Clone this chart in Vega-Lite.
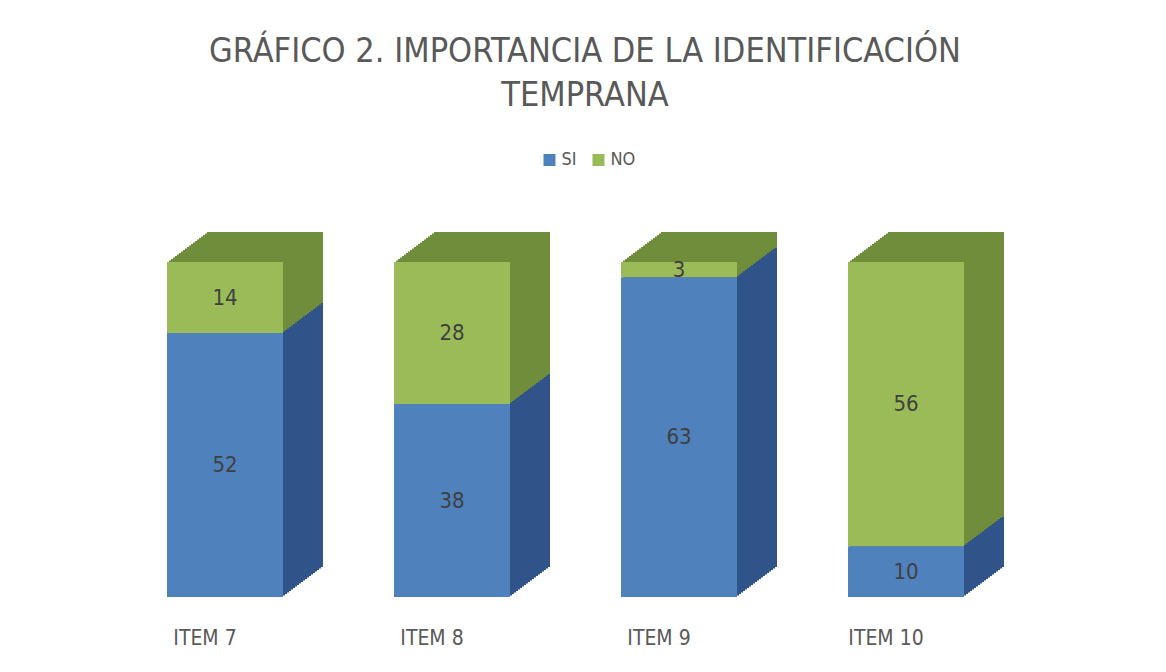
{
  "$schema": "https://vega.github.io/schema/vega-lite/v6.json",
  "width": 908,
  "height": 335,
  "autosize": "none",
  "padding": {"left": 111.5, "top": 262, "right": 146.5, "bottom": 75},
  "background": "white",
  "config": {"view": {"stroke": null}, "font": "'Liberation Sans Narrow', 'DejaVu Sans Condensed', 'Liberation Sans', sans-serif"},
  "title": {
    "text": ["GRÁFICO 2. IMPORTANCIA DE LA IDENTIFICACIÓN", "TEMPRANA"],
    "anchor": "middle",
    "dx": 19.5,
    "offset": 38,
    "font": "'Liberation Sans Narrow', 'DejaVu Sans Condensed', 'Liberation Sans', sans-serif",
    "fontSize": 34,
    "fontWeight": "normal",
    "lineHeight": 44,
    "color": "#595959"
  },
  "data": {"values": [
    {"item": "ITEM 7", "resp": "SI", "n": 52},
    {"item": "ITEM 7", "resp": "NO", "n": 14},
    {"item": "ITEM 8", "resp": "SI", "n": 38},
    {"item": "ITEM 8", "resp": "NO", "n": 28},
    {"item": "ITEM 9", "resp": "SI", "n": 63},
    {"item": "ITEM 9", "resp": "NO", "n": 3},
    {"item": "ITEM 10", "resp": "SI", "n": 10},
    {"item": "ITEM 10", "resp": "NO", "n": 56}
  ]},
  "encoding": {
    "x": {"field": "item", "type": "nominal", "sort": null,
      "scale": {"paddingInner": 0, "paddingOuter": 0},
      "axis": {"title": null, "domain": false, "ticks": false, "grid": false, "labelAngle": 0,
        "labelFontSize": 21, "labelColor": "#595959", "labelPadding": 30, "labelOffset": -20,
        "labelFont": "'Liberation Sans Narrow', 'DejaVu Sans Condensed', 'Liberation Sans', sans-serif"}},
    "y": {"field": "n", "type": "quantitative", "stack": "zero",
      "scale": {"domain": [0, 66], "nice": false}, "axis": null},
    "detail": {"field": "resp"},
    "order": {"field": "resp", "sort": "descending"}
  },
  "layer": [
    {"mark": {"type": "bar", "width": 116, "xOffset": 40, "x2Offset": 40, "yOffset": -30, "y2Offset": -30}, "encoding": {"color": {"condition": {"test": "datum.resp === 'SI'", "value": "#30548A"}, "value": "#6F8D3A"}}},
    {"mark": {"type": "bar", "width": 116, "xOffset": 38, "x2Offset": 38, "yOffset": -28.5, "y2Offset": -28.5}, "encoding": {"color": {"condition": {"test": "datum.resp === 'SI'", "value": "#30548A"}, "value": "#6F8D3A"}}},
    {"mark": {"type": "bar", "width": 116, "xOffset": 36, "x2Offset": 36, "yOffset": -27, "y2Offset": -27}, "encoding": {"color": {"condition": {"test": "datum.resp === 'SI'", "value": "#30548A"}, "value": "#6F8D3A"}}},
    {"mark": {"type": "bar", "width": 116, "xOffset": 34, "x2Offset": 34, "yOffset": -25.5, "y2Offset": -25.5}, "encoding": {"color": {"condition": {"test": "datum.resp === 'SI'", "value": "#30548A"}, "value": "#6F8D3A"}}},
    {"mark": {"type": "bar", "width": 116, "xOffset": 32, "x2Offset": 32, "yOffset": -24, "y2Offset": -24}, "encoding": {"color": {"condition": {"test": "datum.resp === 'SI'", "value": "#30548A"}, "value": "#6F8D3A"}}},
    {"mark": {"type": "bar", "width": 116, "xOffset": 30, "x2Offset": 30, "yOffset": -22.5, "y2Offset": -22.5}, "encoding": {"color": {"condition": {"test": "datum.resp === 'SI'", "value": "#30548A"}, "value": "#6F8D3A"}}},
    {"mark": {"type": "bar", "width": 116, "xOffset": 28, "x2Offset": 28, "yOffset": -21, "y2Offset": -21}, "encoding": {"color": {"condition": {"test": "datum.resp === 'SI'", "value": "#30548A"}, "value": "#6F8D3A"}}},
    {"mark": {"type": "bar", "width": 116, "xOffset": 26, "x2Offset": 26, "yOffset": -19.5, "y2Offset": -19.5}, "encoding": {"color": {"condition": {"test": "datum.resp === 'SI'", "value": "#30548A"}, "value": "#6F8D3A"}}},
    {"mark": {"type": "bar", "width": 116, "xOffset": 24, "x2Offset": 24, "yOffset": -18, "y2Offset": -18}, "encoding": {"color": {"condition": {"test": "datum.resp === 'SI'", "value": "#30548A"}, "value": "#6F8D3A"}}},
    {"mark": {"type": "bar", "width": 116, "xOffset": 22, "x2Offset": 22, "yOffset": -16.5, "y2Offset": -16.5}, "encoding": {"color": {"condition": {"test": "datum.resp === 'SI'", "value": "#30548A"}, "value": "#6F8D3A"}}},
    {"mark": {"type": "bar", "width": 116, "xOffset": 20, "x2Offset": 20, "yOffset": -15, "y2Offset": -15}, "encoding": {"color": {"condition": {"test": "datum.resp === 'SI'", "value": "#30548A"}, "value": "#6F8D3A"}}},
    {"mark": {"type": "bar", "width": 116, "xOffset": 18, "x2Offset": 18, "yOffset": -13.5, "y2Offset": -13.5}, "encoding": {"color": {"condition": {"test": "datum.resp === 'SI'", "value": "#30548A"}, "value": "#6F8D3A"}}},
    {"mark": {"type": "bar", "width": 116, "xOffset": 16, "x2Offset": 16, "yOffset": -12, "y2Offset": -12}, "encoding": {"color": {"condition": {"test": "datum.resp === 'SI'", "value": "#30548A"}, "value": "#6F8D3A"}}},
    {"mark": {"type": "bar", "width": 116, "xOffset": 14, "x2Offset": 14, "yOffset": -10.5, "y2Offset": -10.5}, "encoding": {"color": {"condition": {"test": "datum.resp === 'SI'", "value": "#30548A"}, "value": "#6F8D3A"}}},
    {"mark": {"type": "bar", "width": 116, "xOffset": 12, "x2Offset": 12, "yOffset": -9, "y2Offset": -9}, "encoding": {"color": {"condition": {"test": "datum.resp === 'SI'", "value": "#30548A"}, "value": "#6F8D3A"}}},
    {"mark": {"type": "bar", "width": 116, "xOffset": 10, "x2Offset": 10, "yOffset": -7.5, "y2Offset": -7.5}, "encoding": {"color": {"condition": {"test": "datum.resp === 'SI'", "value": "#30548A"}, "value": "#6F8D3A"}}},
    {"mark": {"type": "bar", "width": 116, "xOffset": 8, "x2Offset": 8, "yOffset": -6, "y2Offset": -6}, "encoding": {"color": {"condition": {"test": "datum.resp === 'SI'", "value": "#30548A"}, "value": "#6F8D3A"}}},
    {"mark": {"type": "bar", "width": 116, "xOffset": 6, "x2Offset": 6, "yOffset": -4.5, "y2Offset": -4.5}, "encoding": {"color": {"condition": {"test": "datum.resp === 'SI'", "value": "#30548A"}, "value": "#6F8D3A"}}},
    {"mark": {"type": "bar", "width": 116, "xOffset": 4, "x2Offset": 4, "yOffset": -3, "y2Offset": -3}, "encoding": {"color": {"condition": {"test": "datum.resp === 'SI'", "value": "#30548A"}, "value": "#6F8D3A"}}},
    {"mark": {"type": "bar", "width": 116, "xOffset": 2, "x2Offset": 2, "yOffset": -1.5, "y2Offset": -1.5}, "encoding": {"color": {"condition": {"test": "datum.resp === 'SI'", "value": "#30548A"}, "value": "#6F8D3A"}}},
    {"mark": {"type": "bar", "width": 116},
      "encoding": {"color": {"field": "resp", "type": "nominal",
        "scale": {"domain": ["SI", "NO"], "range": ["#4F81BD", "#9BBB59"]},
        "legend": {"title": null, "orient": "none", "direction": "horizontal", "legendX": 429, "legendY": -111,
          "symbolType": "square", "symbolSize": 144, "symbolStrokeWidth": 0, "labelFontSize": 18,
          "labelColor": "#595959", "labelFont": "'Liberation Sans Narrow', 'DejaVu Sans Condensed', 'Liberation Sans', sans-serif", "labelOffset": 3, "columnPadding": 12, "padding": 0}}}},
    {"transform": [
      {"stack": "n", "groupby": ["item"], "sort": [{"field": "resp", "order": "descending"}], "as": ["y0", "y1"]},
      {"calculate": "(datum.y0 + datum.y1) / 2", "as": "mid"}
    ],
      "mark": {"type": "text", "fontSize": 22, "color": "#404040", "font": "'Liberation Sans Narrow', 'DejaVu Sans Condensed', 'Liberation Sans', sans-serif"},
      "encoding": {"y": {"field": "mid", "type": "quantitative", "stack": null}, "text": {"field": "n", "type": "quantitative"}}}
  ]
}
